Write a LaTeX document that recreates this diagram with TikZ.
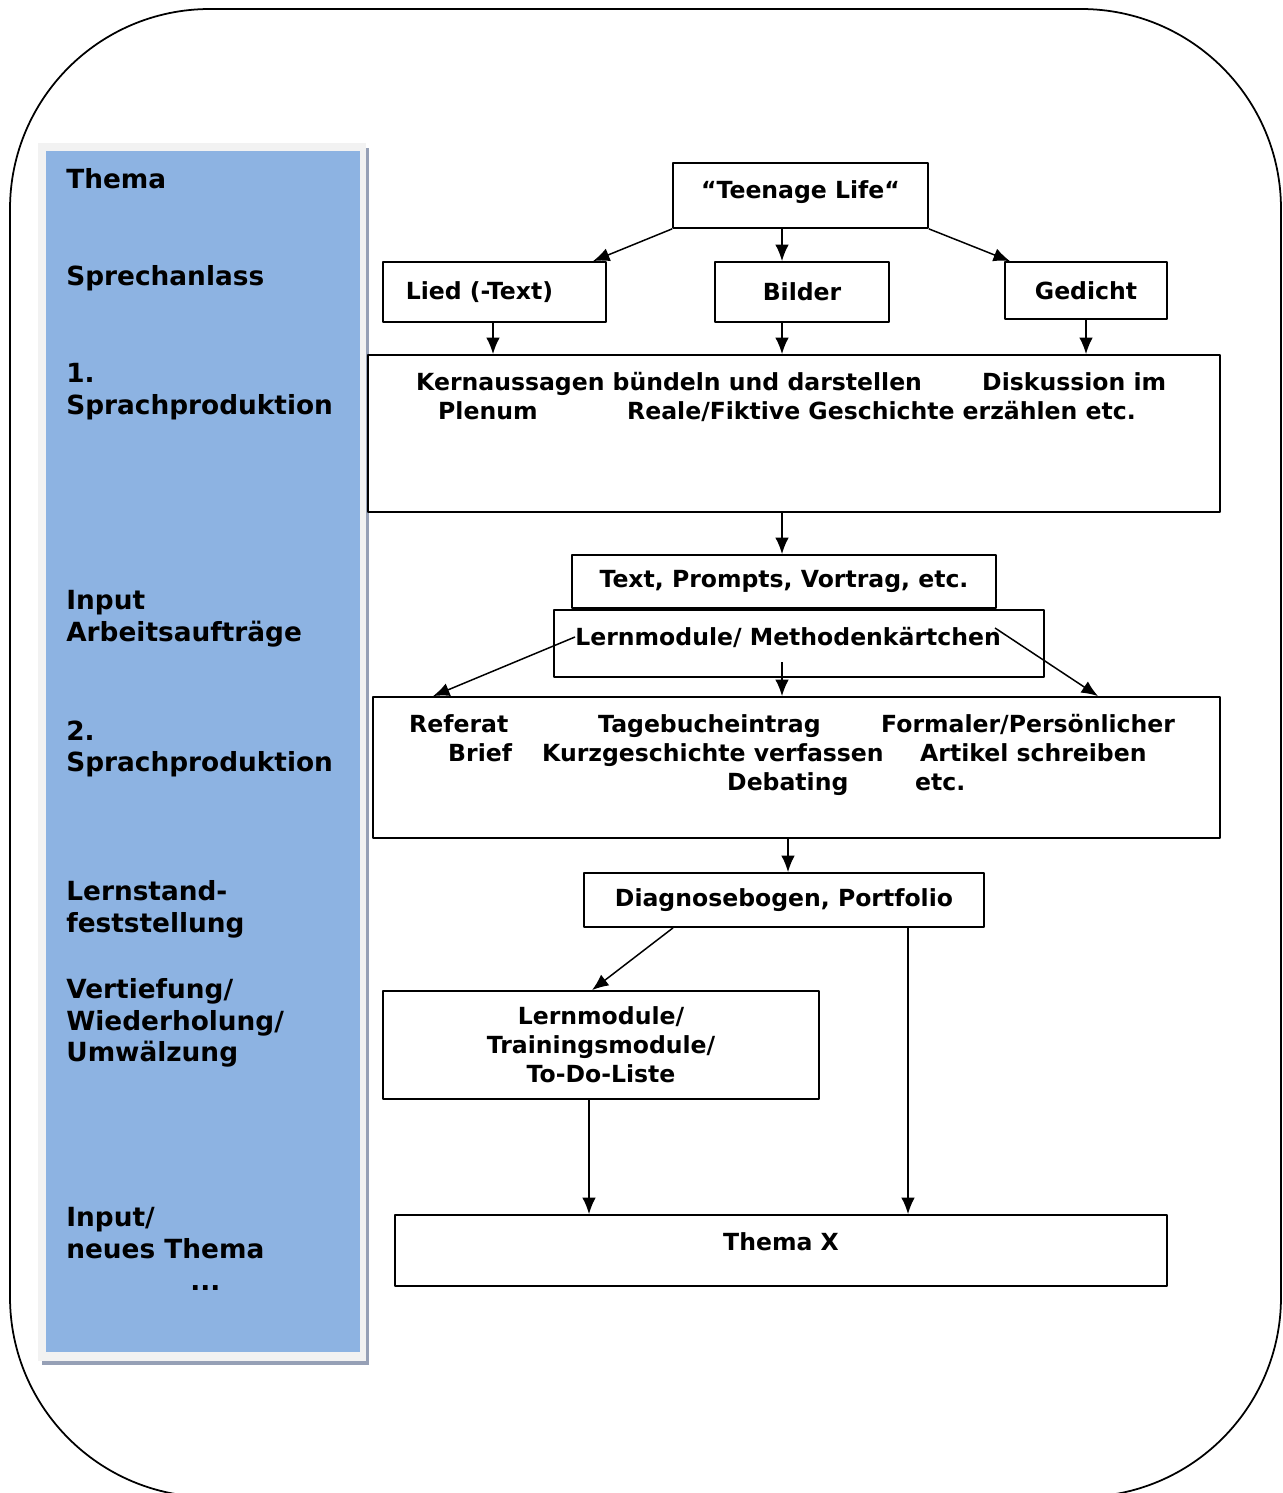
\documentclass[tikz,border=0pt]{standalone}
\usepackage{fontspec}
\setmainfont{DejaVu Sans}
\usetikzlibrary{arrows.meta}

\definecolor{leistenblau}{RGB}{141,179,226}
\definecolor{leistenrand}{RGB}{242,242,242}
\definecolor{schatten}{RGB}{150,160,182}

\newlength\pxl
\setlength\pxl{0.02cm}
\newcommand{\kastenfont}{\bfseries\fontsize{13.4}{16.5}\selectfont}
\newcommand{\leistenfont}{\bfseries\fontsize{15}{18.1}\selectfont}
% word placed at a fixed distance from the left edge of the picture
\newcommand{\bei}[2]{\makebox[0pt][l]{\hspace*{#1\pxl}#2}}

\tikzset{
	kasten/.style={draw,line width=1pt,inner sep=0pt,font=\kastenfont,align=center},
	pfeil/.style={-{Latex[length=3.3mm,width=2.7mm]},line width=0.85pt},
	leiste/.style={anchor=west,inner sep=0pt,align=left,font=\leistenfont},
	zeile/.style={anchor=base west,inner sep=0pt,font=\kastenfont},
}

\begin{document}
\begin{tikzpicture}[x=0.02cm,y=-0.02cm,line join=round]
	\useasboundingbox (0,0) rectangle (1282,1493);
	\draw[line width=1pt,rounded corners=4cm] (10,9) rectangle (1281,1497);
	
	% left column
	\fill[leistenrand] (38,143) rectangle (366,1361);
	\fill[schatten] (366,148) rectangle (369,1365);
	\fill[schatten] (42,1361) rectangle (369,1365);
	\fill[leistenblau] (46,151) rectangle (360,1352);
	
	\node[leiste] (lthema) at (66,179) {Thema};
	\node[leiste] (lsprech) at (66,278) {Sprechanlass};
	\node[leiste] (lsp1) at (66,392) {1.\\Sprachproduktion};
	\node[leiste] (linput) at (66,619) {Input\\Arbeitsaufträge};
	\node[leiste] (lsp2) at (66,749) {2.\\Sprachproduktion};
	\node[leiste] (lstand) at (66,909) {Lernstand-\\feststellung};
	\node[leiste] (lvert) at (66,1023) {Vertiefung/\\Wiederholung/\\Umwälzung};
	\node[leiste] (lneu) at (66,1249) {Input/\\neues Thema\\\hspace*{124\pxl}...};
	
	% boxes
	\node[kasten,minimum width=255\pxl,minimum height=65\pxl] (teen) at (800.5,195.5) {“Teenage Life“\rule[-12\pxl]{0pt}{0pt}};
	\node[kasten,minimum width=223\pxl,minimum height=60\pxl] (lied) at (494.5,292) {Lied (-Text)\hspace*{30\pxl}};
	\node[kasten,minimum width=174\pxl,minimum height=60\pxl] (bilder) at (802,292) {Bilder};
	\node[kasten,minimum width=162\pxl,minimum height=57\pxl] (gedicht) at (1086,290.5) {Gedicht};
	
	\node[kasten,minimum width=852\pxl,minimum height=157\pxl] (sp1) at (794,433.5) {};
	\node[zeile] (sp1a) at (0,390) {\bei{415}{Kernaussagen bündeln und darstellen}\bei{981}{Diskussion im}};
	\node[zeile] (sp1b) at (0,419) {\bei{437}{Plenum}\bei{626}{Reale/Fiktive Geschichte erzählen etc.}};
	
	\node[kasten,minimum width=424\pxl,minimum height=53\pxl] (inp) at (784,581.5) {Text, Prompts, Vortrag, etc.};
	\node[kasten,minimum width=490\pxl,minimum height=67\pxl] (lern) at (799,643.5) {};
	\node[zeile,anchor=west] (lerntxt) at (575,637) {Lernmodule/ Methodenkärtchen};
	
	\node[kasten,minimum width=847\pxl,minimum height=141\pxl] (sp2) at (796.5,767.5) {};
	\node[zeile] (sp2a) at (0,732) {\bei{408}{Referat}\bei{597}{Tagebucheintrag}\bei{880}{Formaler/Persönlicher}};
	\node[zeile] (sp2b) at (0,761) {\bei{447}{Brief}\bei{541}{Kurzgeschichte verfassen}\bei{919}{Artikel schreiben}};
	\node[zeile] (sp2c) at (0,790) {\bei{726}{Debating}\bei{914}{etc.}};
	
	\node[kasten,minimum width=400\pxl,minimum height=54\pxl] (diag) at (784,900) {Diagnosebogen, Portfolio};
	\node[kasten,minimum width=436\pxl,minimum height=108\pxl] (lern2) at (601,1045) {Lernmodule/\\Trainingsmodule/\\To-Do-Liste};
	\node[kasten,minimum width=772\pxl,minimum height=71\pxl] (themax) at (781,1250.5) {};
	\node[zeile,anchor=center] (themaxtxt) at (781,1242) {Thema X};
	
	\coordinate (lmitte) at (782,662);
	\coordinate (lrechts) at (995,628);
	
	% arrows
	\draw[pfeil] (teen.south west) -- (593,0 |- lied.north);
	\draw[pfeil] (782,0 |- teen.south) -- (782,0 |- bilder.north);
	\draw[pfeil] (teen.south east) -- (1010,0 |- gedicht.north);
	\draw[pfeil] (493,0 |- lied.south) -- (493,0 |- sp1.north);
	\draw[pfeil] (782,0 |- bilder.south) -- (782,0 |- sp1.north);
	\draw[pfeil] (gedicht.south) -- (gedicht.south |- sp1.north);
	\draw[pfeil] (782,0 |- sp1.south) -- (782,0 |- inp.north);
	\draw[pfeil] (lerntxt.west) -- (433,0 |- sp2.north);
	\draw[pfeil] (lmitte) -- (lmitte |- sp2.north);
	\draw[pfeil] (lrechts) -- (1098,0 |- sp2.north);
	\draw[pfeil] (788,0 |- sp2.south) -- (788,0 |- diag.north);
	\draw[pfeil] (673,0 |- diag.south) -- (592,0 |- lern2.north);
	\draw[pfeil] (908,0 |- diag.south) -- (908,0 |- themax.north);
	\draw[pfeil] (589,0 |- lern2.south) -- (589,0 |- themax.north);
\end{tikzpicture}
\end{document}
